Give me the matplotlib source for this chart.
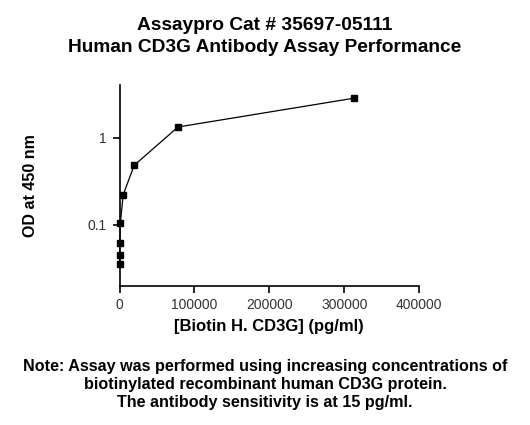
"""
Human CD3G Antibody Assay Performance - standard curve
"""

import matplotlib.pyplot as plt

plt.rcParams["font.family"] = ["Liberation Sans", "DejaVu Sans"]

# -----------------------------
# Data
# -----------------------------
conc_pg_ml = [0, 76, 305, 1221, 4883, 19531, 78125, 312500]
od_450 = [0.035, 0.045, 0.062, 0.106, 0.22, 0.48, 1.32, 2.82]

x_ticks = [0, 100000, 200000, 300000, 400000]
y_ticks = [0.1, 1]
y_tick_labels = ["0.1", "1"]

title_lines = ["Assaypro Cat # 35697-05111", "Human CD3G Antibody Assay Performance"]
note_lines = [
    "Note: Assay was performed using increasing concentrations of",
    "biotinylated recombinant human CD3G protein.",
    "The antibody sensitivity is at 15 pg/ml.",
]

# -----------------------------
# Figure
# -----------------------------
fig = plt.figure(figsize=(5.3, 4.25), dpi=100)
ax = fig.add_axes([0.2255, 0.3278, 0.5655, 0.4722])

ax.plot(conc_pg_ml, od_450, color="black", linewidth=0.9,
        marker="s", markersize=4.5, markerfacecolor="black", clip_on=False)

ax.set_yscale("log")
ax.set_xlim(0, 400000)
ax.set_ylim(0.02, 4)
ax.set_xticks(x_ticks)
ax.set_xticklabels([str(t) for t in x_ticks])
ax.set_yticks(y_ticks)
ax.set_yticklabels(y_tick_labels)
ax.minorticks_off()

for side in ["top", "right"]:
    ax.spines[side].set_visible(False)
for side in ["left", "bottom"]:
    ax.spines[side].set_linewidth(1.2)
ax.tick_params(axis="both", direction="out", length=5, width=1.2,
               labelsize=10, labelcolor="#333333", pad=4)

ax.set_xlabel("[Biotin H. CD3G] (pg/ml)", fontsize=12, fontweight="bold", labelpad=5)
ax.set_ylabel("OD at 450 nm", fontsize=11.5, fontweight="bold", labelpad=36)

# title and note as figure text
fig.text(0.5, 1 - 25 / 425, title_lines[0], ha="center", va="center",
         fontsize=13.8, fontweight="bold")
fig.text(0.5, 1 - 47 / 425, title_lines[1], ha="center", va="center",
         fontsize=13.8, fontweight="bold")
for y_px, line in zip([366, 385, 402], note_lines):
    fig.text(0.5, 1 - y_px / 425, line, ha="center", va="center",
             fontsize=11.6, fontweight="bold")

fig.savefig("out.png", dpi=100)
plt.close(fig)
